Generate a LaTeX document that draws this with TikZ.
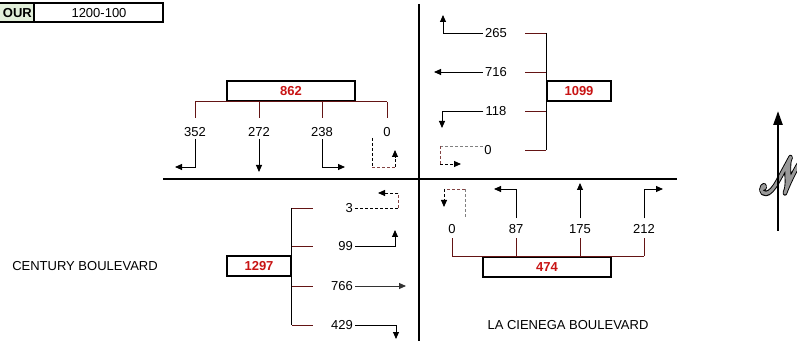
\documentclass[tikz,border=0pt]{standalone}
\usepackage{fontspec}
\setmainfont{Liberation Sans}
\usepackage{mathrsfs}
\usetikzlibrary{arrows.meta}
\definecolor{brk}{RGB}{100,20,20}
\definecolor{valred}{RGB}{200,20,20}
\definecolor{hdrgreen}{RGB}{226,239,218}
\definecolor{ngray}{gray}{0.6}
\tikzset{
  road/.style={line width=2.6pt},
  valbox/.style={draw, line width=1.8pt, minimum height=20pt, inner sep=0pt, text=valred, font=\fontsize{13}{15}\selectfont\bfseries},
  lbl/.style={inner sep=2pt, font=\fontsize{13}{15}\selectfont},
  brline/.style={draw=brk, line width=0.9pt},
  arr/.style={line width=0.9pt, -{Triangle[length=7pt,width=6pt]}},
  dsh/.style={line width=0.9pt, dash pattern=on 3pt off 2pt},
  dsharr/.style={dsh, -{Triangle[length=7pt,width=6pt]}},
  nglyph/.style={inner sep=0pt, xscale=3.9, yscale=5.1}
}
\begin{document}
\begin{tikzpicture}[x=1pt,y=-1pt]
\useasboundingbox (0,0) rectangle (797,347);
% header table
\fill[hdrgreen] (-3,3) rectangle (34,22);
\draw[line width=1.6pt] (-3,3) -- (163,3) -- (163,22) -- (-3,22);
\draw[line width=1.6pt] (34,3) -- (34,22);
\node[lbl, font=\fontsize{13}{15}\selectfont\bfseries, anchor=east] (hdr) at (34,13) {OUR};
\node[lbl] (hval) at (99,13) {1200-100};
% roads
\draw[road] (163,179) -- (677,179);
\draw[road] (419,4) -- (419,341);
% ---------- top-left group (862)
\node[valbox, minimum width=128pt] (b862) at (291,91) {862};
\node[lbl] (l352) at (195,132) {352};
\node[lbl] (l272) at (259,132) {272};
\node[lbl] (l238) at (322,132) {238};
\node[lbl] (l0a) at (387,132) {0};
\draw[brline] (l352 |- b862.south) -- (l0a |- b862.south);
\foreach \n in {l352,l272,l238,l0a}
  \draw[brline, shorten >=7pt] (\n |- b862.south) -- (\n.north);
\coordinate (c352) at (175,167);
\coordinate (c272) at (259,172);
\coordinate (c238) at (345,167);
\draw[arr] (l352.south) |- (c352);
\draw[arr] (l272.south) -- (c272);
\draw[arr] (l238.south) |- (c238);
\coordinate (d0a1) at (372,138);
\coordinate (d0a2) at (372,167);
\coordinate (d0a3) at (395,167);
\coordinate (d0a4) at (395,150);
\draw[dsh] (d0a1) -- (d0a2);
\draw[dsh, draw=brk!80!white] (d0a2) -- (d0a3);
\draw[dsharr] (d0a3) -- (d0a4);
% ---------- top-right group (1099)
\node[valbox, minimum width=64pt] (b1099) at (579,91) {1099};
\node[lbl] (l265) at (496,33) {265};
\node[lbl] (l716) at (496,72) {716};
\node[lbl] (l118) at (496,111) {118};
\node[lbl] (l0b) at (488,150) {0};
\draw[line width=0.9pt] (b1099.west |- l265) -- (b1099.west |- l0b);
\foreach \n in {l265,l716,l118,l0b}
  \draw[brline] (b1099.west |- \n) -- ++(-21,0);
\coordinate (c265) at (443,15);
\coordinate (c716) at (434,72);
\coordinate (c118) at (442,128);
\draw[arr] (l265.west) -| (c265);
\draw[arr] (l716.west) -- (c716);
\draw[arr] (l118.west) -| (c118);
\coordinate (d0b1) at (483,146);
\coordinate (d0b2) at (440,146);
\coordinate (d0b3) at (440,164);
\coordinate (d0b4) at (461,164);
\draw[dsh, draw=gray] (d0b1) -- (d0b2);
\draw[dsh, draw=brk!80!white] (d0b2) -- (d0b3);
\draw[dsharr] (d0b3) -- (d0b4);
% ---------- bottom-left group (1297)
\node[lbl] (century) at (85,266) {CENTURY BOULEVARD};
\node[valbox, minimum width=64pt] (b1297) at (259,266) {1297};
\node[lbl, anchor=east] (l3) at (355,208) {3};
\node[lbl, anchor=east] (l99) at (355,246) {99};
\node[lbl, anchor=east] (l766) at (355,286) {766};
\node[lbl, anchor=east] (l429) at (355,325) {429};
\draw[line width=0.9pt] (b1297.east |- l3) -- (b1297.east |- l429);
\foreach \n in {l3,l99,l766,l429}
  \draw[brline] (b1297.east |- \n) -- ++(21,0);
\coordinate (d31) at (398,208);
\coordinate (d32) at (398,193);
\coordinate (d33) at (378,193);
\draw[dsh] (l3.east) -- (d31);
\draw[dsh, draw=brk!80!white] (d31) -- (d32);
\draw[dsharr] (d32) -- (d33);
\coordinate (c99) at (395,230);
\coordinate (c766) at (406,286);
\coordinate (c429) at (396,339);
\draw[arr] (l99.east) -| (c99);
\draw[arr, draw=black!80] (l766.east) -- (c766);
\draw[arr] (l429.east) -| (c429);
% ---------- bottom-right group (474)
\node[lbl] (cienega) at (568,325) {LA CIENEGA BOULEVARD};
\node[valbox, minimum width=128pt] (b474) at (547,267) {474};
\node[lbl] (l0c) at (452,229) {0};
\node[lbl] (l87) at (516,229) {87};
\node[lbl] (l175) at (580,229) {175};
\node[lbl] (l212) at (644,229) {212};
\draw[brline] (l0c |- b474.north) -- (l212 |- b474.north);
\foreach \n in {l0c,l87,l175,l212}
  \draw[brline, shorten >=2pt] (\n |- b474.north) -- (\n.south);
\coordinate (c87) at (494,189);
\coordinate (c175) at (580,183);
\coordinate (c212) at (663,189);
\draw[arr, shorten <=4pt] (l87.north) |- (c87);
\draw[arr, shorten <=4pt] (l175.north) -- (c175);
\draw[arr, shorten <=4pt] (l212.north) |- (c212);
\coordinate (d0c1) at (465,217);
\coordinate (d0c2) at (465,189);
\coordinate (d0c3) at (444,189);
\coordinate (d0c4) at (444,207);
\draw[dsh, draw=gray] (d0c1) -- (d0c2);
\draw[dsh, draw=brk!80!white] (d0c2) -- (d0c3);
\draw[dsharr] (d0c3) -- (d0c4);
% ---------- north arrow
\node[nglyph, text=black] (northa) at (784,175) {\special{pdf:literal direct 0 G 1 j 1 J 2 Tr 0.9 w}$\mathscr{N}$\special{pdf:literal direct 0 Tr}};
\node[nglyph, text=ngray] (northb) at (784,175) {\special{pdf:literal direct 0.6 G 1 j 1 J 2 Tr 0.45 w}$\mathscr{N}$\special{pdf:literal direct 0 Tr}};
\coordinate (ns) at (778,231);
\coordinate (nn) at (778,111);
\draw[line width=2.4pt, -{Triangle[length=14pt,width=9pt]}] (ns) -- (nn);
\end{tikzpicture}
\end{document}
